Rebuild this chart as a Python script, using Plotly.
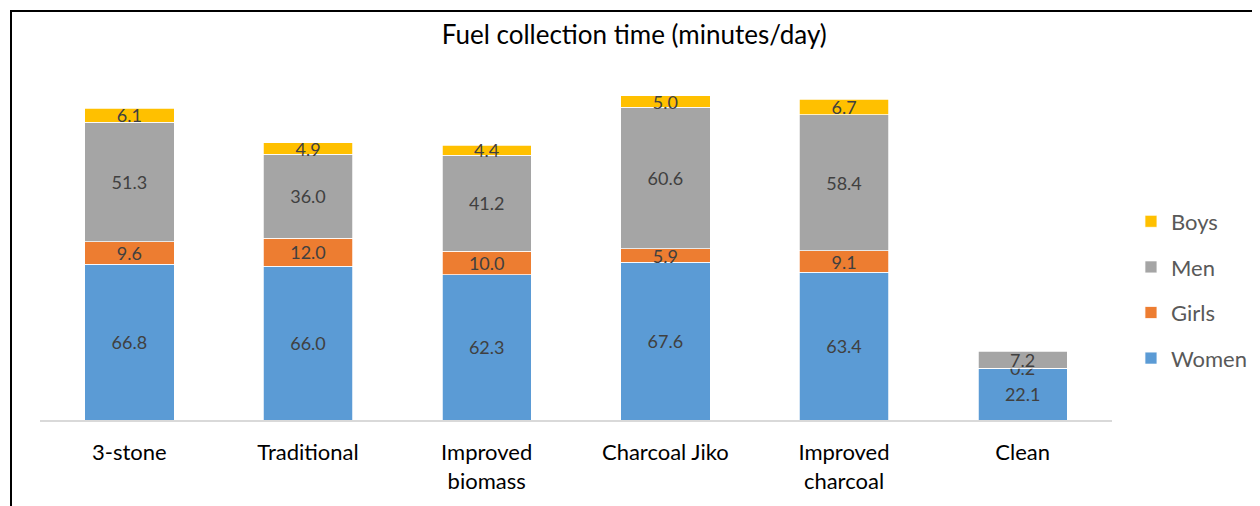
import plotly.graph_objects as go

categories = ["3-stone", "Traditional", "Improved<br>biomass", "Charcoal Jiko", "Improved<br>charcoal", "Clean"]
women = [66.8, 66.0, 62.3, 67.6, 63.4, 22.1]
girls = [9.6, 12.0, 10.0, 5.9, 9.1, 0.2]
men = [51.3, 36.0, 41.2, 60.6, 58.4, 7.2]
boys = [6.1, 4.9, 4.4, 5.0, 6.7, None]

series = [
    ("Women", women, "#5B9BD5"),
    ("Girls", girls, "#ED7D31"),
    ("Men", men, "#A5A5A5"),
    ("Boys", boys, "#FFC000"),
]

FONT = "Lato, Open Sans, sans-serif"

fig = go.Figure()
for i, (name, vals, color) in enumerate(series):
    fig.add_trace(go.Bar(
        name=name,
        x=categories,
        y=vals,
        marker=dict(color=color, line=dict(color="white", width=0.75)),
        text=[None if v is None else f"{v:.1f}" for v in vals],
        textposition="inside",
        insidetextanchor="middle",
        textangle=0,
        textfont=dict(color="#404040", size=18, family=FONT),
        legendgroup=name,
        legendrank=len(series) - i,
        hoverinfo="skip",
    ))

fig.update_layout(
    width=1260,
    height=506,
    barmode="stack",
    bargap=0.5,
    plot_bgcolor="white",
    paper_bgcolor="white",
    margin=dict(l=32, r=156, t=39, b=94),
    font=dict(family=FONT),
    uniformtext=dict(minsize=18, mode="show"),
    title=dict(
        text="Fuel collection time (minutes/day)",
        x=0.497, xref="container", xanchor="center",
        y=0.9466, yref="container", yanchor="middle",
        font=dict(size=26, color="#000000", family=FONT),
    ),
    legend=dict(
        traceorder="grouped",
        x=1.0177, xanchor="left",
        y=0.3485, yanchor="middle",
        font=dict(size=22, color="#595959", family=FONT),
        tracegroupgap=14,
        itemwidth=30,
    ),
    xaxis=dict(
        showline=True, linecolor="#D9D9D9", linewidth=1.5,
        ticks="outside", ticklen=12, tickcolor="rgba(0,0,0,0)",
        tickfont=dict(size=22, color="#000000", family=FONT),
        showgrid=False,
    ),
    yaxis=dict(
        range=[0, 160], visible=False, showgrid=False,
    ),
    shapes=[
        dict(type="rect", xref="paper", yref="paper",
             x0=-0.02705, x1=1.16, y0=-0.3, y1=1.0965,
             line=dict(color="black", width=2), fillcolor="rgba(0,0,0,0)",
             layer="below"),
    ],
)

fig.write_html("out.html")
